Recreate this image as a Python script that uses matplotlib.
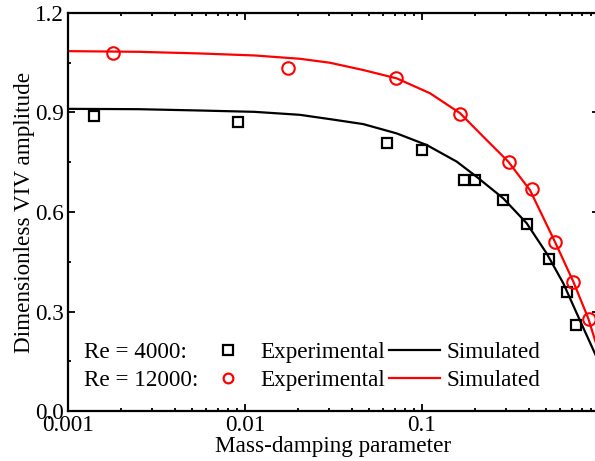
import numpy as np
import matplotlib
matplotlib.use("Agg")
import matplotlib.pyplot as plt
from matplotlib.lines import Line2D
from matplotlib.ticker import LogLocator, FixedLocator, NullFormatter

plt.rcParams['font.family'] = ['Liberation Serif', 'DejaVu Serif']
plt.rcParams['font.size'] = 16.7

# Re = 4000 experimental
exp4000_x = [0.00140, 0.00912, 0.0631, 0.100, 0.173, 0.199, 0.287, 0.392, 0.522, 0.659, 0.741]
exp4000_y = [0.889, 0.871, 0.808, 0.787, 0.696, 0.696, 0.636, 0.564, 0.458, 0.359, 0.259]

# Re = 12000 experimental
exp12000_x = [0.00180, 0.0175, 0.0713, 0.164, 0.310, 0.418, 0.564, 0.713, 0.878]
exp12000_y = [1.079, 1.034, 1.004, 0.895, 0.751, 0.669, 0.510, 0.389, 0.277]

# simulated curves
sim4000_x = [0.001, 0.0025, 0.00557, 0.0113, 0.0204, 0.0302, 0.0466, 0.0719, 0.1063, 0.157,
             0.2037, 0.288, 0.3905, 0.5064, 0.6286, 0.764, 0.929, 1.0]
sim4000_y = [0.911, 0.910, 0.906, 0.902, 0.893, 0.880, 0.865, 0.837, 0.802, 0.752,
             0.706, 0.641, 0.566, 0.475, 0.385, 0.284, 0.184, 0.146]

sim12000_x = [0.001, 0.0025, 0.00557, 0.0113, 0.0204, 0.0302, 0.0466, 0.0719, 0.111, 0.164,
              0.222, 0.307, 0.4075, 0.564, 0.716, 0.870, 0.949, 1.0]
sim12000_y = [1.085, 1.083, 1.078, 1.072, 1.062, 1.050, 1.028, 1.003, 0.958, 0.898,
              0.827, 0.752, 0.666, 0.510, 0.390, 0.279, 0.214, 0.175]

xticks = [0.001, 0.01, 0.1]
xticklabels = ['0.001', '0.01', '0.1']
yticks = [0.0, 0.3, 0.6, 0.9, 1.2]

fig = plt.figure(figsize=(5.95, 4.61), dpi=100)
ax = fig.add_axes([68 / 595, 50 / 461, 531 / 595, 398 / 461])

ax.plot(sim4000_x, sim4000_y, color='black', lw=1.6)
ax.plot(sim12000_x, sim12000_y, color='red', lw=1.6)
ax.plot(exp4000_x, exp4000_y, ls='none', marker='s', ms=7, mfc='none', mec='black', mew=1.6)
ax.plot(exp12000_x, exp12000_y, ls='none', marker='o', ms=9, mfc='none', mec='red', mew=1.5)

ax.set_xscale('log')
ax.set_xlim(0.001, 1.0)
ax.set_ylim(0, 1.2)
ax.set_xticks(xticks)
ax.set_xticklabels(xticklabels)
ax.xaxis.set_minor_locator(LogLocator(base=10, subs=np.arange(2, 10)))
ax.xaxis.set_minor_formatter(NullFormatter())
ax.set_yticks(yticks)
ax.set_yticklabels(['%.1f' % v for v in yticks])
ax.yaxis.set_minor_locator(FixedLocator([0.15, 0.45, 0.75, 1.05]))

ax.tick_params(which='both', direction='in', top=True, right=True, width=1.3)
ax.tick_params(which='major', length=5, pad=3)
ax.tick_params(which='minor', length=2.5)
for s in ax.spines.values():
    s.set_linewidth(1.6)

ax.set_xlabel('Mass-damping parameter', labelpad=0)
ax.set_ylabel('Dimensionless VIV amplitude', labelpad=0)

blank = Line2D([], [], ls='none')
h_sq = Line2D([], [], ls='none', marker='s', ms=7, mfc='none', mec='black', mew=1.6)
h_ci = Line2D([], [], ls='none', marker='o', ms=7, mfc='none', mec='red', mew=1.6)
h_bl = Line2D([], [], color='black', lw=1.6)
h_rd = Line2D([], [], color='red', lw=1.6)
fig.legend([blank, blank, h_sq, h_ci, h_bl, h_rd],
           ['Re = 4000:', 'Re = 12000:', 'Experimental', 'Experimental', 'Simulated', 'Simulated'],
           ncol=3, loc='lower left', bbox_to_anchor=(27 / 595, 70 / 461),
           frameon=False, borderpad=0, borderaxespad=0, handlelength=2.2,
           handletextpad=0.27, columnspacing=0.18, labelspacing=0.28)

fig.savefig('out.png', dpi=100)
